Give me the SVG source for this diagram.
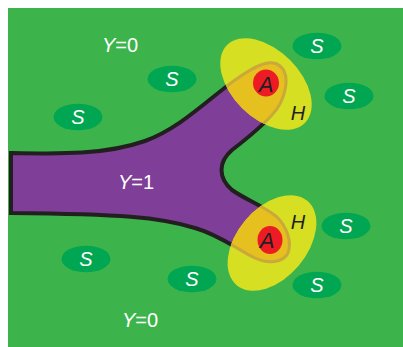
<svg xmlns="http://www.w3.org/2000/svg" width="403" height="347" viewBox="0 0 403 347">
<style>
.bg{fill:#3cb44b}
.s{fill:#00a651}
.st{fill:#ffffff;font-family:"Liberation Sans",Arial,sans-serif;font-size:20px;font-style:italic;text-anchor:middle}
.lbl{fill:#ffffff;font-family:"Liberation Sans",Arial,sans-serif;font-size:20px}
.it{font-style:italic}
.dk{fill:#231f20;font-family:"Liberation Sans",Arial,sans-serif;font-style:italic;text-anchor:middle}
.yel{fill:#d7df23}
.red{fill:#ed1c24}
</style>
<defs>
<path id="tube" d="M 11,153 C 60,154 105,155 145,141 C 180,128 205,102 235,80 C 255,66 270,58 280,66 C 291,75 286,100 272,115 C 260,128 245,140 232,150 C 218,162 218,178 232,190 C 246,200 264,206 277,217 C 287,227 292,242 288,253 C 283,263 268,264 255,258 C 238,250 220,235 195,228 C 160,217 120,214 11,213 Z"/>
<clipPath id="c1"><ellipse cx="266" cy="84" rx="55" ry="34" transform="rotate(45 266 84)"/></clipPath>
<clipPath id="c2"><ellipse cx="272" cy="243" rx="55" ry="35" transform="rotate(-50 272 243)"/></clipPath>
</defs>
<rect class="bg" x="8" y="8" width="395" height="339"/>
<g id="tube-body">
<use href="#tube" fill="#7f3f98" stroke="#231f20" stroke-width="4"/>
</g>
<g id="H-upper">
<ellipse class="yel" cx="266" cy="84" rx="55" ry="34" transform="rotate(45 266 84)"/>
<g clip-path="url(#c1)"><use href="#tube" fill="#e6c01f" stroke="#caa83a" stroke-width="3"/></g>
<ellipse class="red" cx="266" cy="83" rx="13" ry="13.5"/>
<text class="dk" x="266" y="92" font-size="22">A</text>
<text class="dk" x="298" y="120" font-size="20">H</text>
</g>
<g id="H-lower">
<ellipse class="yel" cx="272" cy="243" rx="55" ry="35" transform="rotate(-50 272 243)"/>
<g clip-path="url(#c2)"><use href="#tube" fill="#e6c01f" stroke="#caa83a" stroke-width="3"/></g>
<ellipse class="red" cx="270" cy="240" rx="12.5" ry="14"/>
<text class="dk" x="267" y="248" font-size="22">A</text>
<text class="dk" x="298" y="229" font-size="20">H</text>
</g>
<g id="S1"><ellipse class="s" cx="317" cy="46" rx="24.5" ry="13.3"/><text class="st" x="317" y="53">S</text></g>
<g id="S2"><ellipse class="s" cx="349" cy="96" rx="24.5" ry="13.3"/><text class="st" x="349" y="103">S</text></g>
<g id="S3"><ellipse class="s" cx="172" cy="79" rx="24.5" ry="13.3"/><text class="st" x="172" y="86">S</text></g>
<g id="S4"><ellipse class="s" cx="78" cy="117" rx="24.5" ry="13.3"/><text class="st" x="78" y="124">S</text></g>
<g id="S5"><ellipse class="s" cx="86" cy="259" rx="24.5" ry="13.3"/><text class="st" x="86" y="266">S</text></g>
<g id="S6"><ellipse class="s" cx="192" cy="279" rx="24.5" ry="13.3"/><text class="st" x="192" y="286">S</text></g>
<g id="S7"><ellipse class="s" cx="346" cy="226" rx="24.5" ry="13.3"/><text class="st" x="346" y="233">S</text></g>
<g id="S8"><ellipse class="s" cx="317" cy="285" rx="24.5" ry="13.3"/><text class="st" x="317" y="292">S</text></g>
<g id="labels">
<text class="lbl" x="102" y="52"><tspan class="it">Y</tspan>=0</text>
<text class="lbl" x="118" y="189"><tspan class="it">Y</tspan>=1</text>
<text class="lbl" x="122" y="327"><tspan class="it">Y</tspan>=0</text>
</g>
</svg>
